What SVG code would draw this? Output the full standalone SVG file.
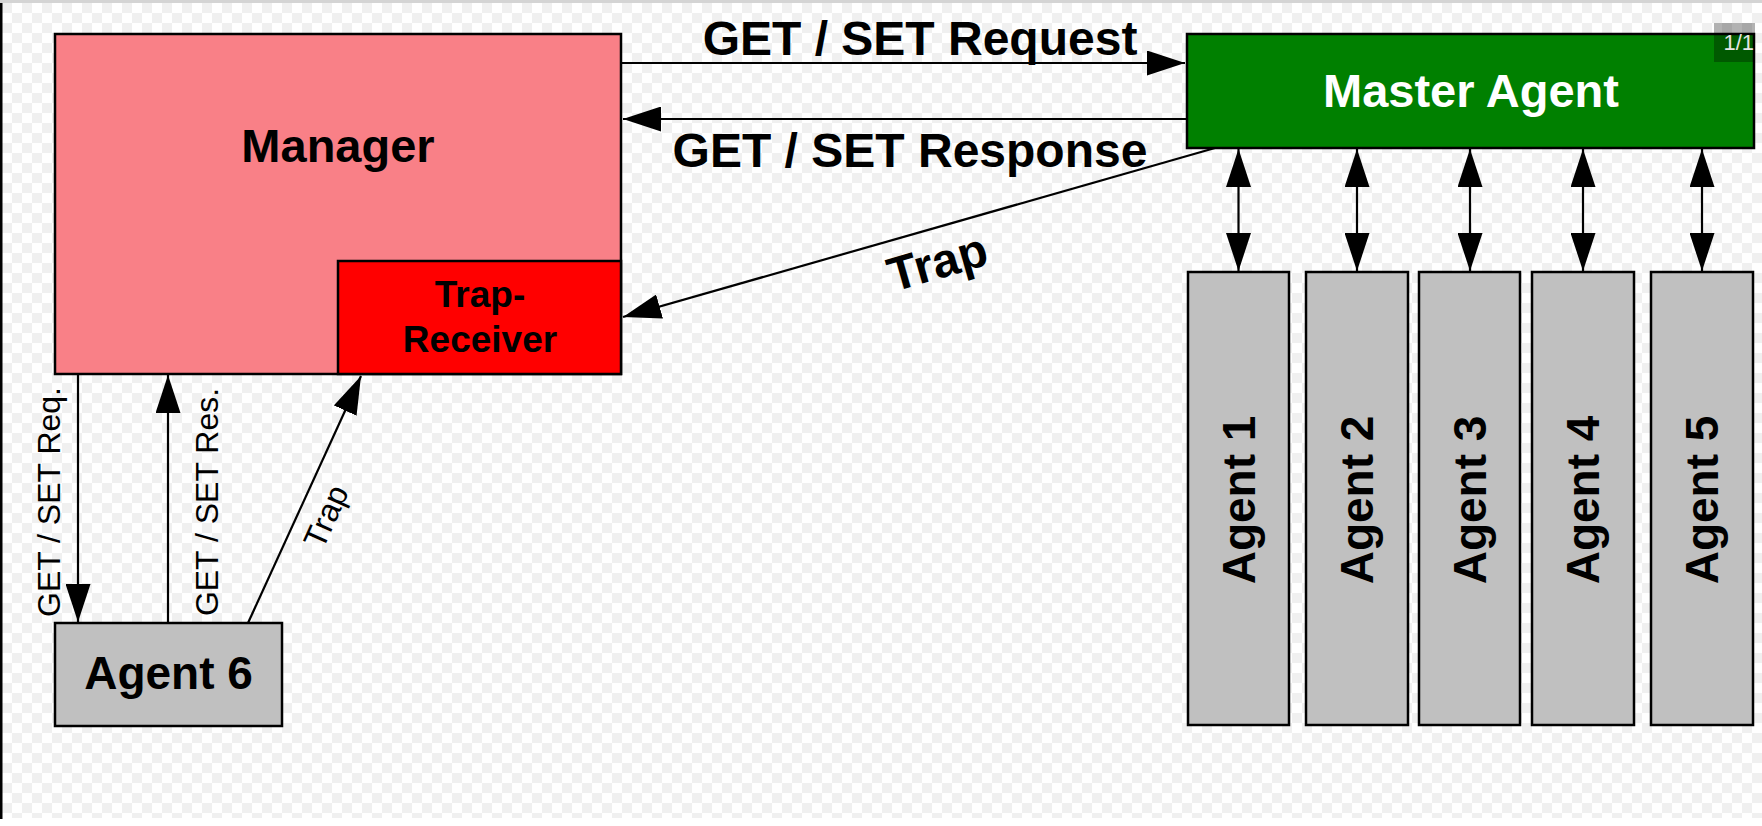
<svg xmlns="http://www.w3.org/2000/svg" width="1762" height="826" viewBox="0 0 1762 826">
  <defs>
    <pattern id="checker" x="2" y="3" width="20" height="20" patternUnits="userSpaceOnUse">
      <rect width="20" height="20" fill="#ffffff"/>
      <rect width="10" height="10" fill="#f0f0f0"/>
      <rect x="10" y="10" width="10" height="10" fill="#f0f0f0"/>
    </pattern>
    <marker id="arrow" markerUnits="userSpaceOnUse" markerWidth="38" markerHeight="25" refX="38" refY="12.5" orient="auto-start-reverse" viewBox="0 0 38 25">
      <path d="M0,0 L38,12.5 L0,25 Z" fill="#000"/>
    </marker>
    <style>
      .box { stroke: #000; stroke-width: 2.5; }
      .conn { stroke: #000; stroke-width: 2.2; fill: none; }
      .big { font-family: "Liberation Sans", Arial, sans-serif; font-weight: bold; fill: #000; }
      .small { font-family: "Liberation Sans", Arial, sans-serif; font-weight: normal; fill: #000; font-size: 32px; }
    </style>
  </defs>

  <!-- viewer background -->
  <rect x="0" y="0" width="1762" height="826" fill="#ffffff"/>
  <rect x="2" y="3" width="1760" height="815" fill="url(#checker)"/>
  <rect x="0" y="0" width="1762" height="3" fill="#d4d4d4"/>
  <rect x="0" y="3" width="2.5" height="816" fill="#000"/>

  <g id="connectors">
    <path class="conn" d="M621,63 L1185,63" marker-end="url(#arrow)"/>
    <path class="conn" d="M1187,119 L623,119" marker-end="url(#arrow)"/>
    <path class="conn" d="M1215,148 L623,317" marker-end="url(#arrow)"/>
    <path class="conn" d="M1238.5,149 L1238.5,271" marker-start="url(#arrow)" marker-end="url(#arrow)"/>
    <path class="conn" d="M1357,149 L1357,271" marker-start="url(#arrow)" marker-end="url(#arrow)"/>
    <path class="conn" d="M1470,149 L1470,271" marker-start="url(#arrow)" marker-end="url(#arrow)"/>
    <path class="conn" d="M1583,149 L1583,271" marker-start="url(#arrow)" marker-end="url(#arrow)"/>
    <path class="conn" d="M1702,149 L1702,271" marker-start="url(#arrow)" marker-end="url(#arrow)"/>
    <path class="conn" d="M78,374 L78,622" marker-end="url(#arrow)"/>
    <path class="conn" d="M168,623 L168,375" marker-end="url(#arrow)"/>
    <path class="conn" d="M248,623 L361,376" marker-end="url(#arrow)"/>

    <text class="big" font-size="48" x="920" y="55" text-anchor="middle">GET / SET Request</text>
    <text class="big" font-size="48" x="910" y="167" text-anchor="middle">GET / SET Response</text>
    <text class="big" font-size="48" x="942" y="278" text-anchor="middle" transform="rotate(-16 942 278)">Trap</text>
    <text class="small" x="60" y="502" text-anchor="middle" transform="rotate(-90 60 502)">GET / SET Req.</text>
    <text class="small" x="218" y="502" text-anchor="middle" transform="rotate(-90 218 502)">GET / SET Res.</text>
    <text class="small" x="336" y="521" text-anchor="middle" transform="rotate(-65.8 336 521)">Trap</text>
  </g>

  <g id="manager">
    <rect class="box" x="55" y="34" width="566" height="340" fill="#f98087"/>
    <text class="big" font-size="47" x="338" y="162" text-anchor="middle">Manager</text>
  </g>

  <g id="trap-receiver">
    <rect class="box" x="338" y="261" width="283" height="113" fill="#ff0000"/>
    <text class="big" font-size="37" x="480" y="307" text-anchor="middle">Trap-</text>
    <text class="big" font-size="37" x="480" y="352" text-anchor="middle">Receiver</text>
  </g>

  <g id="master-agent">
    <rect class="box" x="1187" y="34" width="567" height="114" fill="#008000"/>
    <text class="big" font-size="47" x="1471" y="107" text-anchor="middle" style="fill:#ffffff">Master Agent</text>
  </g>

  <g id="agent1">
    <rect class="box" x="1188" y="272" width="101" height="453" fill="#c0c0c0"/>
    <text class="big" font-size="46" x="1254.5" y="500" text-anchor="middle" transform="rotate(-90 1254.5 500)">Agent 1</text>
  </g>
  <g id="agent2">
    <rect class="box" x="1306" y="272" width="102" height="453" fill="#c0c0c0"/>
    <text class="big" font-size="46" x="1373" y="500" text-anchor="middle" transform="rotate(-90 1373 500)">Agent 2</text>
  </g>
  <g id="agent3">
    <rect class="box" x="1419" y="272" width="101" height="453" fill="#c0c0c0"/>
    <text class="big" font-size="46" x="1486" y="500" text-anchor="middle" transform="rotate(-90 1486 500)">Agent 3</text>
  </g>
  <g id="agent4">
    <rect class="box" x="1532" y="272" width="102" height="453" fill="#c0c0c0"/>
    <text class="big" font-size="46" x="1599" y="500" text-anchor="middle" transform="rotate(-90 1599 500)">Agent 4</text>
  </g>
  <g id="agent5">
    <rect class="box" x="1651" y="272" width="102" height="453" fill="#c0c0c0"/>
    <text class="big" font-size="46" x="1718" y="500" text-anchor="middle" transform="rotate(-90 1718 500)">Agent 5</text>
  </g>

  <g id="agent6">
    <rect class="box" x="55" y="623" width="227" height="103" fill="#c0c0c0"/>
    <text class="big" font-size="46" x="168.5" y="689" text-anchor="middle">Agent 6</text>
  </g>

  <g id="page-badge">
    <rect x="1714" y="23" width="41" height="39" fill="#000000" fill-opacity="0.3"/>
    <text x="1754" y="50" text-anchor="end" font-family="Liberation Sans, Arial, sans-serif" font-size="22" fill="#e6e6e6">1/1</text>
  </g>
</svg>
